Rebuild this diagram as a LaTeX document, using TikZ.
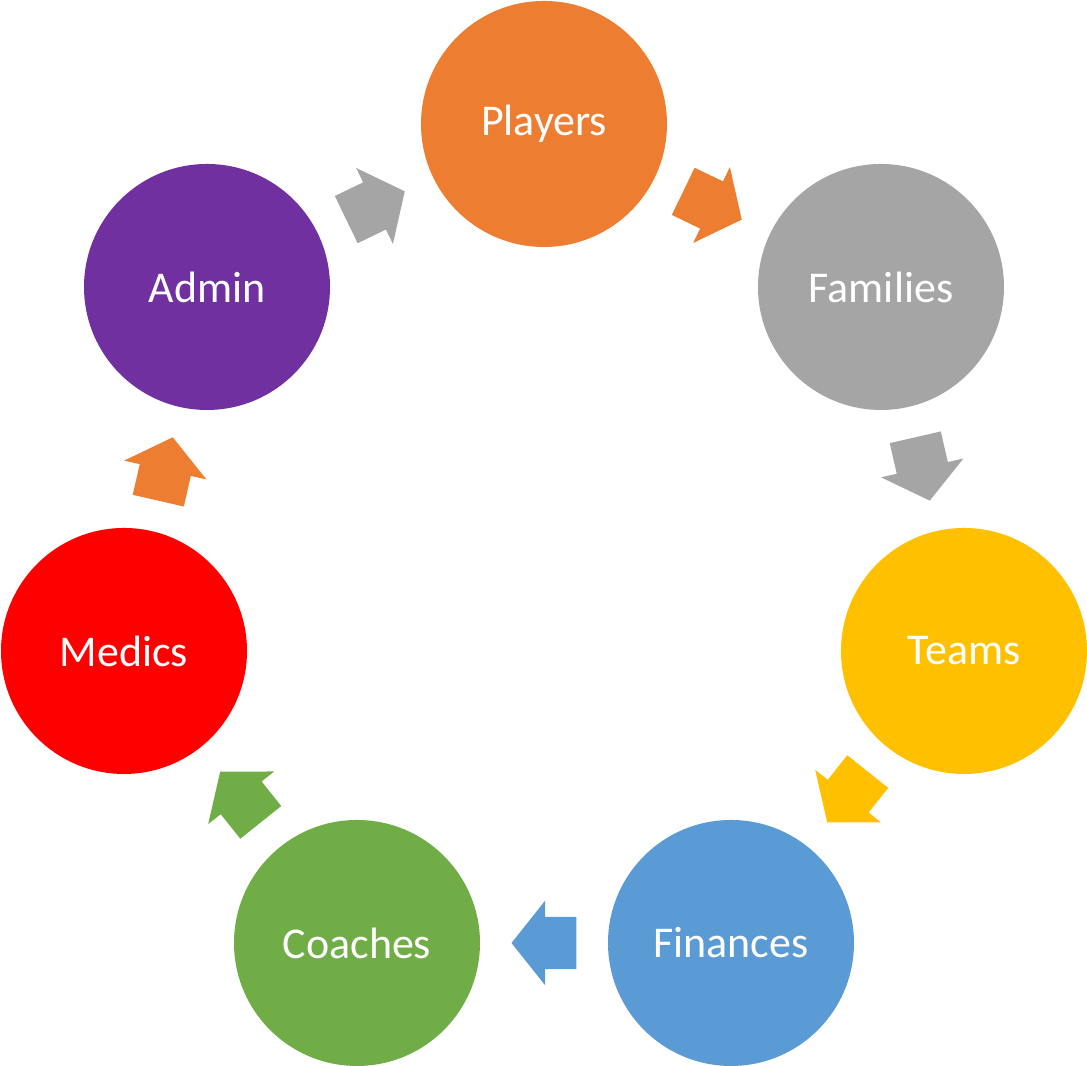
\documentclass[tikz,border=0pt]{standalone}
\usepackage{fontspec}
\setmainfont{Carlito}
\usepackage{tikz}
\usetikzlibrary{calc}
\usetikzlibrary{shapes.arrows}

\definecolor{sOrange}{HTML}{ED7D31}
\definecolor{sGray}{HTML}{A5A5A5}
\definecolor{sYellow}{HTML}{FFC000}
\definecolor{sBlue}{HTML}{5B9BD5}
\definecolor{sGreen}{HTML}{70AD47}
\definecolor{sRed}{HTML}{FF0000}
\definecolor{sPurple}{HTML}{7030A0}

\begin{document}
\begin{tikzpicture}[
    bubble/.style={circle, minimum size=2.46cm, inner sep=0pt, text=white,
        font=\fontsize{12.5}{15}\selectfont},
    blockarrow/.style={single arrow, minimum height=0.65cm, anchor=tail,
        single arrow head extend=0.16cm, single arrow tip angle=103,
        inner xsep=0pt, inner ysep=0.255cm, outer sep=0pt}
]

    % Margens da figura
    \useasboundingbox (0,0) rectangle (10.87,10.66);

    % Circulos do ciclo
    \node[bubble, fill=sOrange] (players)  at (5.44, 9.42) {Players};
    \node[bubble, fill=sGray]   (families) at (8.81, 7.79) {Families};
    \node[bubble, fill=sYellow] (teams)    at (9.64, 4.15) {Teams};
    \node[bubble, fill=sBlue]   (finances) at (7.31, 1.23) {Finances};
    \node[bubble, fill=sGreen]  (coaches)  at (3.57, 1.23) {Coaches};
    \node[bubble, fill=sRed]    (medics)   at (1.24, 4.15) {Medics};
    \node[bubble, fill=sPurple] (admin)    at (2.07, 7.79) {Admin};

    % Setas entre os circulos (cauda a meia seta antes do ponto medio)
    \def\half{0.325cm}
    \node[blockarrow, fill=sOrange, rotate=-25.8]  (toFamilies) at ($(players)!0.5!(families)!\half!(players)$) {};
    \node[blockarrow, fill=sGray,   rotate=-77.1]  (toTeams)    at ($(families)!0.5!(teams)!\half!(families)$) {};
    \node[blockarrow, fill=sYellow, rotate=-128.6] (toFinances) at ($(teams)!0.5!(finances)!\half!(teams)$) {};
    \node[blockarrow, fill=sBlue,   rotate=180]    (toCoaches)  at ($(finances)!0.5!(coaches)!\half!(finances)$) {};
    \node[blockarrow, fill=sGreen,  rotate=128.6]  (toMedics)   at ($(coaches)!0.5!(medics)!\half!(coaches)$) {};
    \node[blockarrow, fill=sOrange, rotate=77.1]   (toAdmin)    at ($(medics)!0.5!(admin)!\half!(medics)$) {};
    \node[blockarrow, fill=sGray,   rotate=25.8]   (toPlayers)  at ($(admin)!0.5!(players)!\half!(admin)$) {};

\end{tikzpicture}
\end{document}
